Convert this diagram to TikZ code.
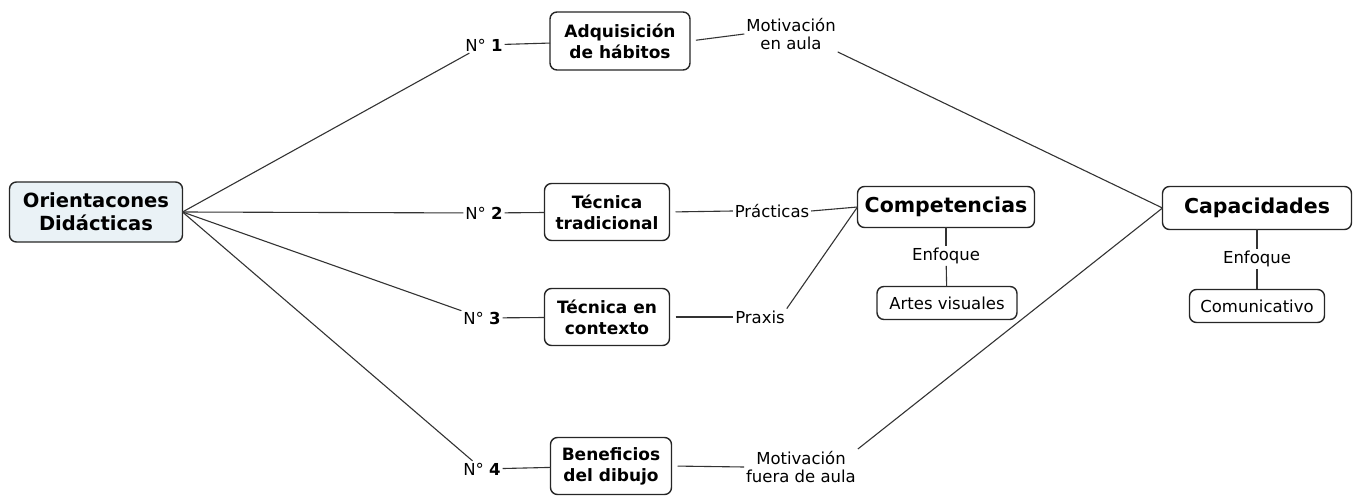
\documentclass[tikz,border=0pt]{standalone}
\usepackage{fontspec}
\setmainfont{DejaVu Sans}
\definecolor{orfill}{RGB}{234,242,246}
\begin{document}
\begin{tikzpicture}[x=1pt,y=-1pt,
  every node/.style={inner sep=0pt,outer sep=0pt},
  box/.style={draw=black!85,line width=1.4pt,rounded corners=7pt,fill=white,align=center,font=\bfseries\fontsize{17}{21}\selectfont},
  bigbox/.style={box,font=\bfseries\fontsize{20.5}{24}\selectfont},
  smallbox/.style={box,font=\fontsize{16.5}{19}\selectfont},
  lab/.style={align=center,inner sep=2pt,font=\fontsize{16.5}{18.5}\selectfont,fill=white},
  conn/.style={draw=black!80,line width=1.1pt}]
\useasboundingbox (0,0) rectangle (1358,497);
% nodes
\node[box,font=\bfseries\fontsize{19.5}{23}\selectfont,fill=orfill,minimum width=173pt,minimum height=60pt] (orient) at (96,212) {Orientacones\\Didácticas};
\node[lab] (n1) at (484,45) {N° \textbf{1}};
\node[lab] (n2) at (484,213) {N° \textbf{2}};
\node[lab] (n3) at (482,318) {N° \textbf{3}};
\node[lab] (n4) at (482,469) {N° \textbf{4}};
\node[box,minimum width=140pt,minimum height=58pt] (adq) at (620,41) {Adquisición\\de hábitos};
\node[box,minimum width=125pt,minimum height=57pt] (trad) at (607,212) {Técnica\\tradicional};
\node[box,minimum width=125pt,minimum height=57pt] (ctx) at (607,317) {Técnica en\\contexto};
\node[box,minimum width=121pt,minimum height=57pt] (ben) at (611,466) {Beneficios\\del dibujo};
\node[lab] (mot1) at (791,34) {Motivación\\en aula};
\node[lab] (prac) at (772,211) {Prácticas};
\node[lab] (praxis) at (760,317) {Praxis};
\node[lab] (mot2) at (801,467) {Motivación\\fuera de aula};
\node[bigbox,minimum width=177pt,minimum height=41pt] (comp) at (946,207) {Competencias};
\node[lab] (enf1) at (946,256) {Enfoque};
\node[smallbox,minimum width=140pt,minimum height=33pt] (artes) at (947,303) {Artes visuales};
\node[bigbox,minimum width=189pt,minimum height=43pt] (cap) at (1257,208) {Capacidades};
\node[lab] (enf2) at (1257,259) {Enfoque};
\node[smallbox,minimum width=135pt,minimum height=33pt] (comu) at (1257,306) {Comunicativo};
% connectors
\draw[conn] (orient.east) -- (n1);
\draw[conn] (orient.east) -- (n2);
\draw[conn] (orient.east) -- (n3);
\draw[conn] (orient.east) -- (n4);
\draw[conn] (n1) -- (adq);
\draw[conn] (n2) -- (trad);
\draw[conn] (n3) -- (ctx);
\draw[conn] (n4) -- (ben);
\draw[conn,shorten <=6pt] (adq.east) -- (mot1.west);
\draw[conn,shorten <=6pt] (trad.east) -- (prac.west);
\draw[conn,shorten <=6pt] (ctx.east) -- (praxis.west);
\draw[conn,shorten <=6pt] (ben.east) -- (mot2.west);
\draw[conn] (prac.east) -- (comp.west);
\draw[conn] (praxis.north east) -- (comp.west);
\draw[conn] (mot1.south east) -- (cap.west);
\draw[conn] (mot2.north east) -- (cap.west);
\draw[conn] (comp) -- (enf1);
\draw[conn] (enf1) -- (artes);
\draw[conn] (cap) -- (enf2);
\draw[conn] (enf2) -- (comu);
\end{tikzpicture}
\end{document}
